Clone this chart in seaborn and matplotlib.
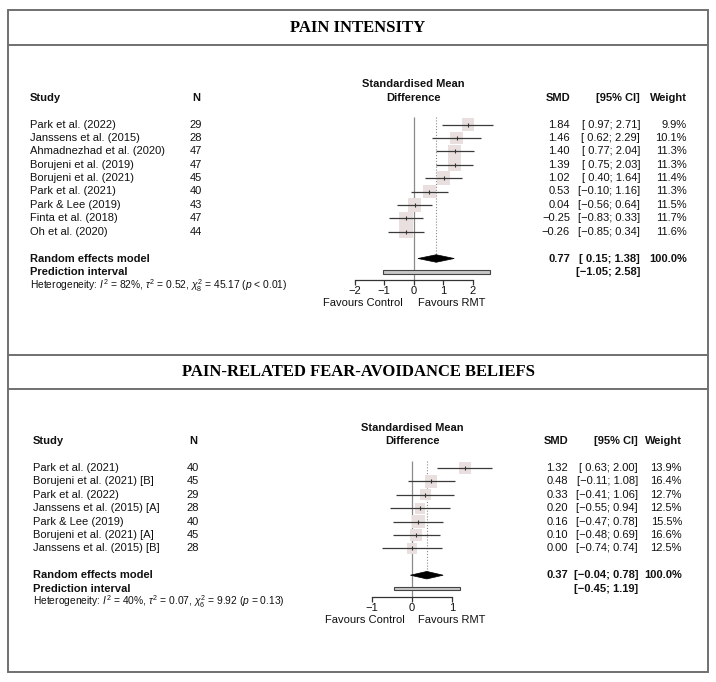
import numpy as np
import pandas as pd
import matplotlib
matplotlib.use("Agg")
import matplotlib.pyplot as plt
import matplotlib.transforms as mtransforms
from matplotlib.patches import Rectangle, Polygon
import seaborn as sns

# ---- data: pain intensity
pi_study = ["Park et al. (2022)", "Janssens et al. (2015)", "Ahmadnezhad et al. (2020)",
            "Borujeni et al. (2019)", "Borujeni et al. (2021)", "Park et al. (2021)",
            "Park & Lee (2019)", "Finta et al. (2018)", "Oh et al. (2020)"]
pi_n = [29, 28, 47, 47, 45, 40, 43, 47, 44]
pi_smd = [1.84, 1.46, 1.40, 1.39, 1.02, 0.53, 0.04, -0.25, -0.26]
pi_lo = [0.97, 0.62, 0.77, 0.75, 0.40, -0.10, -0.56, -0.83, -0.85]
pi_hi = [2.71, 2.29, 2.04, 2.03, 1.64, 1.16, 0.64, 0.33, 0.34]
pi_w = [9.9, 10.1, 11.3, 11.3, 11.4, 11.3, 11.5, 11.7, 11.6]
pi_re = [0.77, 0.15, 1.38]
pi_pred = [-1.05, 2.58]
pi_het = r"Heterogeneity: $I^2$ = 82%, $\tau^2$ = 0.52, $\chi^2_8$ = 45.17 ($p$ < 0.01)"
pi_ticks = [-2, -1, 0, 1, 2]

# ---- data: pain-related fear-avoidance beliefs
fa_study = ["Park et al. (2021)", "Borujeni et al. (2021) [B]", "Park et al. (2022)",
            "Janssens et al. (2015) [A]", "Park & Lee (2019)", "Borujeni et al. (2021) [A]",
            "Janssens et al. (2015) [B]"]
fa_n = [40, 45, 29, 28, 40, 45, 28]
fa_smd = [1.32, 0.48, 0.33, 0.20, 0.16, 0.10, 0.00]
fa_lo = [0.63, -0.11, -0.41, -0.55, -0.47, -0.48, -0.74]
fa_hi = [2.00, 1.08, 1.06, 0.94, 0.78, 0.69, 0.74]
fa_w = [13.9, 16.4, 12.7, 12.5, 15.5, 16.6, 12.5]
fa_re = [0.37, -0.04, 0.78]
fa_pred = [-0.45, 1.19]
fa_het = r"Heterogeneity: $I^2$ = 40%, $\tau^2$ = 0.07, $\chi^2_6$ = 9.92 ($p$ = 0.13)"
fa_ticks = [-1, 0, 1]

sns.set_style("white")
plt.rcParams["font.family"] = ["Liberation Sans", "DejaVu Sans"]
plt.rcParams["mathtext.fontset"] = "custom"
plt.rcParams["mathtext.rm"] = "Liberation Sans"
plt.rcParams["mathtext.it"] = "Liberation Sans:italic"
plt.rcParams["mathtext.bf"] = "Liberation Sans:bold"

W, H = 716, 682
FS = 8.0
ROWH = 13.4
TXT = "#111111"

fig = plt.figure(figsize=(W / 100, H / 100), dpi=100)
bg = fig.add_axes([0, 0, 1, 1])
bg.set_xlim(0, W)
bg.set_ylim(H, 0)
bg.axis("off")

# frame and section lines
bg.add_patch(Rectangle((8, 10), 700, 662, fill=False, ec="#707070", lw=1.4))
for yy in [45, 355, 389]:
    bg.plot([8, 708], [yy, yy], color="#707070", lw=1.4)
bg.text(358, 28, "PAIN INTENSITY", ha="center", va="center", fontsize=12,
        fontweight="bold", family="Liberation Serif", color="black")
bg.text(358, 372, "PAIN-RELATED FEAR-AVOIDANCE BELIEFS", ha="center", va="center",
        fontsize=12, fontweight="bold", family="Liberation Serif", color="black")


def num(v):
    return f"{v:.2f}".replace("-", "\u2212")


def ci(lo, hi):
    pad = " " if lo >= 0 else ""
    return f"[{pad}{num(lo)}; {num(hi)}]"


def panel(study, n, smd, lo, hi, w, re, pred, het, ticks, lay):
    k = len(study)
    row0, x0, unit = lay["row0"], lay["x0"], lay["unit"]
    top_row = -3.6
    axis_row = k - 1 + 3.6
    left_px, right_px = 330, 505
    top_px = row0 + ROWH * top_row
    bot_px = row0 + ROWH * axis_row
    ax = fig.add_axes([left_px / W, 1 - bot_px / H, (right_px - left_px) / W, (bot_px - top_px) / H])
    ax.set_facecolor("none")

    rows = np.arange(k)
    df = pd.DataFrame({"row": rows, "smd": smd, "lo": lo, "hi": hi, "w": w})

    ax.vlines(0, -0.55, axis_row, color="#8a8a8a", lw=0.9, zorder=1)
    ax.vlines(re[0], -0.55, k + 1, color="#8a8a8a", lw=0.8, ls=(0, (1, 1.6)), zorder=1)

    sns.scatterplot(data=df, x="smd", y="row", size="w",
                    sizes=(min(w) * lay["k"], max(w) * lay["k"]), size_norm=(min(w), max(w)),
                    marker="s", color="#e9dfdf", edgecolor="none", legend=False, ax=ax, zorder=2)
    ax.hlines(df["row"], df["lo"], df["hi"], color="#3a3a3a", lw=0.9, zorder=3)
    ax.plot(df["smd"], df["row"], ls="none", marker="|", ms=3, mew=0.8, color="#333333", zorder=4)

    dr = k + 1
    ax.add_patch(Polygon([[re[1], dr], [re[0], dr - 0.28], [re[2], dr], [re[0], dr + 0.28]],
                         closed=True, fc="black", ec="black", lw=0.5, zorder=3))
    pr = k + 2
    ax.add_patch(Rectangle((pred[0], pr - 0.14), pred[1] - pred[0], 0.28,
                           fc="#c8c8c8", ec="#444444", lw=0.8, zorder=3))

    ax.set_xlim((left_px - x0) / unit, (right_px - x0) / unit)
    ax.set_ylim(axis_row, top_row)
    ax.set_xlabel("")
    ax.set_ylabel("")
    for s in ["left", "top", "right"]:
        ax.spines[s].set_visible(False)
    ax.spines["bottom"].set_bounds(ticks[0], ticks[-1])
    ax.spines["bottom"].set_color("#333333")
    ax.spines["bottom"].set_linewidth(0.9)
    ax.set_yticks([])
    ax.set_xticks(ticks)
    ax.set_xticklabels([str(t).replace("-", "\u2212") for t in ticks])
    ax.tick_params(axis="x", direction="out", length=3.5, width=0.9, color="#333333",
                   pad=0.8, labelsize=FS, labelcolor=TXT, bottom=True)

    tr = mtransforms.blended_transform_factory(bg.transData, ax.transData)
    bold = dict(fontsize=FS, fontweight="bold", color=TXT, va="center", transform=tr)
    norm = dict(fontsize=FS, color=TXT, va="center", transform=tr)

    # headers
    ax.text(0, -3, "Standardised Mean", ha="center", va="center", fontsize=FS,
            fontweight="bold", color=TXT)
    ax.text(0, -2, "Difference", ha="center", va="center", fontsize=FS,
            fontweight="bold", color=TXT)
    bg.text(lay["study_x"], -2, "Study", ha="left", **bold)
    bg.text(lay["n_x"], -2, "N", ha="center", **bold)
    bg.text(lay["smd_x"], -2, "SMD", ha="right", **bold)
    bg.text(lay["ci_x"], -2, "[95% CI]", ha="right", **bold)
    bg.text(lay["w_x"], -2, "Weight", ha="right", **bold)

    for i in range(k):
        bg.text(lay["study_x"], i, study[i], ha="left", **norm)
        bg.text(lay["n_x"], i, str(n[i]), ha="center", **norm)
        bg.text(lay["smd_x"], i, num(smd[i]), ha="right", **norm)
        bg.text(lay["ci_x"], i, ci(lo[i], hi[i]), ha="right", **norm)
        bg.text(lay["w_x"], i, f"{w[i]:.1f}%", ha="right", **norm)

    bg.text(lay["study_x"], dr, "Random effects model", ha="left", **bold)
    bg.text(lay["smd_x"], dr, num(re[0]), ha="right", **bold)
    bg.text(lay["ci_x"], dr, ci(re[1], re[2]), ha="right", **bold)
    bg.text(lay["w_x"], dr, "100.0%", ha="right", **bold)
    bg.text(lay["study_x"], pr, "Prediction interval", ha="left", **bold)
    bg.text(lay["ci_x"], pr, ci(pred[0], pred[1]), ha="right", **bold)
    bg.text(lay["study_x"], pr + 1, het, ha="left", fontsize=7.4, color=TXT,
            va="center", transform=tr)

    fav_row = axis_row + 1.75
    ax.text((lay["fav_l"] - x0) / unit, fav_row, "Favours Control", ha="center",
            va="center", fontsize=FS, color=TXT, clip_on=False)
    ax.text((lay["fav_r"] - x0) / unit, fav_row, "Favours RMT", ha="center",
            va="center", fontsize=FS, color=TXT, clip_on=False)


panel(pi_study, pi_n, pi_smd, pi_lo, pi_hi, pi_w, pi_re, pi_pred, pi_het, pi_ticks,
      dict(row0=124.5, x0=413.5, unit=29.5, k=8.0, study_x=30, n_x=196, smd_x=570,
           ci_x=640, w_x=687, fav_l=363, fav_r=452))
panel(fa_study, fa_n, fa_smd, fa_lo, fa_hi, fa_w, fa_re, fa_pred, fa_het, fa_ticks,
      dict(row0=468, x0=412, unit=40, k=5.0, study_x=33, n_x=193, smd_x=568,
           ci_x=638, w_x=682, fav_l=365, fav_r=452))

fig.savefig("out.png", dpi=100)
